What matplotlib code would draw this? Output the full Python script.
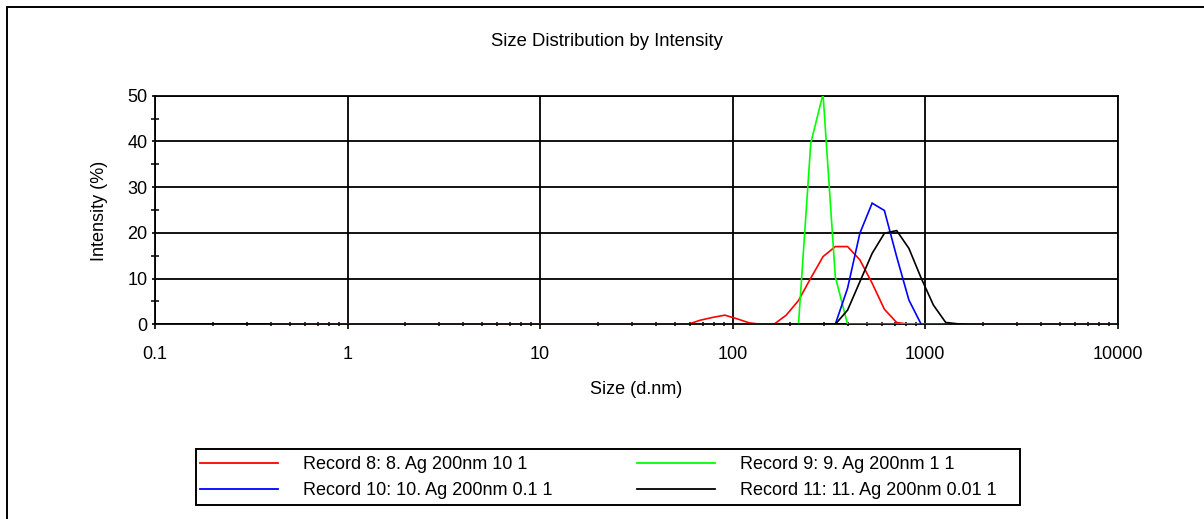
import matplotlib
matplotlib.use("Agg")
import matplotlib.pyplot as plt
from matplotlib.patches import Rectangle
from matplotlib.ticker import FixedLocator, NullFormatter

plt.rcParams["font.family"] = ["Liberation Sans", "DejaVu Sans"]

# ============================================
# Data (Malvern size bins, d.nm)
# ============================================

SIZES = [0.4, 0.4632, 0.5365, 0.6213, 0.7195, 0.8332, 0.9649, 1.117, 1.294, 1.499,
         1.736, 2.01, 2.328, 2.696, 3.122, 3.615, 4.187, 4.849, 5.615, 6.503,
         7.531, 8.721, 10.1, 11.7, 13.54, 15.69, 18.17, 21.04, 24.36, 28.21,
         32.67, 37.84, 43.82, 50.75, 58.77, 68.06, 78.82, 91.28, 105.7, 122.4,
         141.8, 164.2, 190.1, 220.2, 255.0, 295.3, 342.0, 396.1, 458.7, 531.2,
         615.1, 712.4, 825.0, 955.4, 1106, 1281, 1484, 1718, 1990, 2305,
         2669, 3091, 3580, 4145, 4801, 5560, 6439, 7456, 8635, 10000]

# intensities for bins 34 (58.77 nm) .. 57 (1718 nm); all other bins are 0
FIRST_BIN = 34
rec8  = [0.0, 0.9, 1.5, 2.0, 1.2, 0.3, 0.0, 0.0, 2.0, 5.2, 10.1, 14.8,
         17.0, 17.0, 14.1, 9.0, 3.3, 0.4, 0.0, 0.0, 0.0, 0.0, 0.0, 0.0]
rec9  = [0.0, 0.0, 0.0, 0.0, 0.0, 0.0, 0.0, 0.0, 0.0, 0.0, 39.6, 50.4,
         10.4, 0.0, 0.0, 0.0, 0.0, 0.0, 0.0, 0.0, 0.0, 0.0, 0.0, 0.0]
rec10 = [0.0, 0.0, 0.0, 0.0, 0.0, 0.0, 0.0, 0.0, 0.0, 0.0, 0.0, 0.0,
         0.0, 7.9, 19.9, 26.5, 24.9, 14.8, 5.3, 0.0, 0.0, 0.0, 0.0, 0.0]
rec11 = [0.0, 0.0, 0.0, 0.0, 0.0, 0.0, 0.0, 0.0, 0.0, 0.0, 0.0, 0.0,
         0.0, 3.1, 9.3, 15.5, 19.9, 20.5, 16.6, 10.1, 4.2, 0.4, 0.1, 0.0]

LABELS = ["Record 8: 8. Ag 200nm 10 1",
          "Record 9: 9. Ag 200nm 1 1",
          "Record 10: 10. Ag 200nm 0.1 1",
          "Record 11: 11. Ag 200nm 0.01 1"]
COLORS = ["#ff0000", "#00ff00", "#0000ff", "#000000"]

X_TICKS  = [0.1, 1, 10, 100, 1000, 10000]
X_LABELS = ["0.1", "1", "10", "100", "1000", "10000"]
Y_TICKS  = [0, 10, 20, 30, 40, 50]


def full_series(part):
    vals = [0.0] * len(SIZES)
    vals[FIRST_BIN:FIRST_BIN + len(part)] = part
    return vals


# ============================================
# Figure
# ============================================

W, H = 1204, 519
fig = plt.figure(figsize=(W / 100, H / 100), dpi=100)
ax = fig.add_axes([155 / W, 1 - 324.3 / H, (1117.5 - 155) / W, (324.3 - 95.7) / H])

handles = []
for vals, col, lbl in zip([rec8, rec9, rec10, rec11], COLORS, LABELS):
    h, = ax.plot(SIZES, full_series(vals), color=col, lw=1.2, label=lbl,
                 solid_joinstyle="miter", zorder=3)
    handles.append(h)

ax.set_xscale("log")
ax.set_xlim(0.1, 10000)
ax.set_ylim(0, 50)

ax.xaxis.set_major_locator(FixedLocator(X_TICKS))
ax.set_xticklabels(X_LABELS)
minors = [m * 10.0 ** e for e in range(-1, 4) for m in range(2, 10)]
ax.xaxis.set_minor_locator(FixedLocator(minors))
ax.xaxis.set_minor_formatter(NullFormatter())
ax.yaxis.set_major_locator(FixedLocator(Y_TICKS))
ax.yaxis.set_minor_locator(FixedLocator([5, 15, 25, 35, 45]))

ax.grid(True, which="major", color="black", lw=1.3, zorder=1)
for s in ax.spines.values():
    s.set_linewidth(1.3)
    s.set_color("black")

ax.tick_params(axis="x", which="major", direction="out", length=3.5, width=1.2,
               pad=12, labelsize=13)
ax.tick_params(axis="x", which="minor", direction="inout", length=3, width=1.1)
ax.tick_params(axis="y", which="major", direction="out", length=2.5, width=1.2,
               pad=3, labelsize=13)
ax.tick_params(axis="y", which="minor", direction="inout", length=5.5, width=1.1)

fig.text(607 / W, 1 - 42 / H, "Size Distribution by Intensity", ha="center",
         va="center", fontsize=13.3)
fig.text(636 / W, 1 - 390 / H, "Size (d.nm)", ha="center", va="center", fontsize=13)
fig.text(100 / W, 1 - 211 / H, "Intensity (%)", ha="center", va="center",
         rotation=90, fontsize=13)

# legend: column-major order so rows read 8|9 and 10|11
order = [0, 2, 1, 3]
leg = fig.legend([handles[i] for i in order], [LABELS[i] for i in order],
                 ncol=2, loc="upper left",
                 bbox_to_anchor=(200 / W, 1 - 456 / H),
                 borderaxespad=0, borderpad=0, fontsize=13, handlelength=4.3,
                 handletextpad=1.4, labelspacing=0.52, columnspacing=4.7,
                 frameon=False)
for ln in leg.get_lines():
    ln.set_linewidth(1.3)

# legend box
fig.add_artist(Rectangle((196 / W, 1 - 505 / H), 824 / W, 56 / H,
                         transform=fig.transFigure, fill=False,
                         edgecolor="black", lw=1.4))

# outer frame (clipped on the right and bottom)
fig.add_artist(Rectangle((7 / W, -0.5), 2.0, 0.5 + 1 - 7 / H,
                         transform=fig.transFigure, fill=False,
                         edgecolor="black", lw=1.4))

fig.savefig("out.png", dpi=100)
